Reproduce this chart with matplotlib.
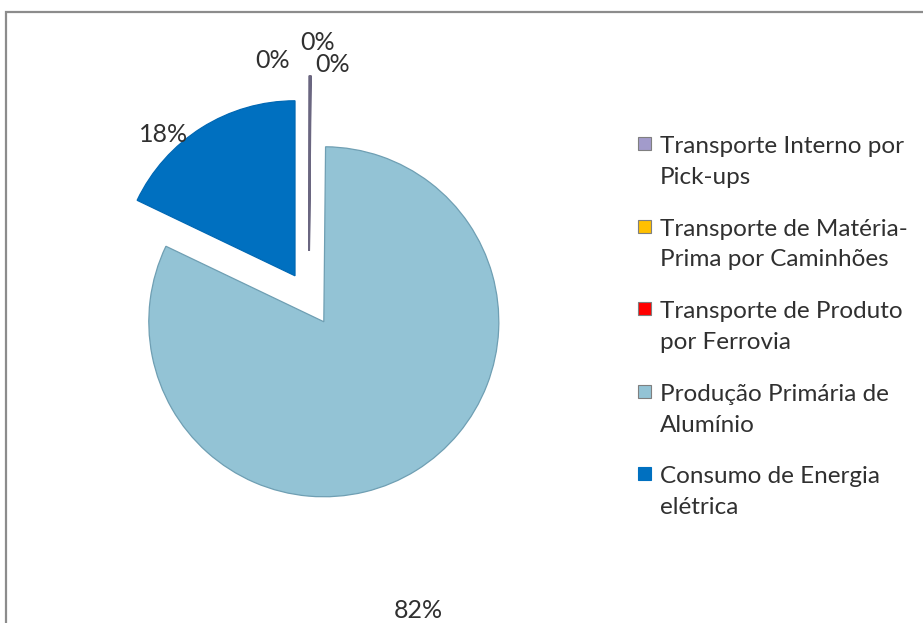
import matplotlib
matplotlib.use("Agg")
import matplotlib.pyplot as plt
from matplotlib.patches import Rectangle

plt.rcParams['font.family'] = ['Lato', 'DejaVu Sans']

# dados do gráfico (%)
categorias = [
    "Transporte Interno por\nPick-ups",
    "Transporte de Matéria-\nPrima por Caminhões",
    "Transporte de Produto\npor Ferrovia",
    "Produção Primária de\nAlumínio",
    "Consumo de Energia\nelétrica",
]
valores = [0.04, 0.08, 0.04, 81.94, 17.9]
cores = ["#A29BCB", "#FFC000", "#FF0000", "#93C3D5", "#0070C0"]
bordas = ["#6A6680", "#6A6680", "#6A6680", "#6F9FB3", "#0068B4"]
destaque = [0.27, 0.27, 0.27, 0.16, 0.15]

# posição dos rótulos em pixels (x, y a partir do topo)
pos_rotulos = [(273, 60), (318, 43), (333, 65), (418, 610), (164, 134)]

W, H = 923, 623
cx, cy, raio = 309, 298, 175
cor_texto = "#303030"

fig = plt.figure(figsize=(W / 100, H / 100), dpi=100)
fig.patches.append(Rectangle((6 / W, -0.05), 1.1, 1 - 12 / H + 0.05,
                             transform=fig.transFigure, fill=False,
                             edgecolor="#8C8C8C", linewidth=1.6))

ax = fig.add_axes([0, 0, 1, 1])
wedges, _, autotexts = ax.pie(
    valores, colors=cores, explode=destaque, startangle=90, counterclock=False,
    autopct='%.0f%%', radius=1,
    wedgeprops=dict(linewidth=0.9),
    textprops=dict(fontsize=18, color=cor_texto),
)
for w, b in zip(wedges, bordas):
    w.set_edgecolor(b)
for t, (px, py) in zip(autotexts, pos_rotulos):
    t.set_position(((px - cx) / raio, (cy - py) / raio))
    t.set_ha("center")
    t.set_va("center")

ax.set_xlim(-cx / raio, (W - cx) / raio)
ax.set_ylim(-(H - cy) / raio, cy / raio)
ax.set_aspect("equal")
ax.axis("off")

# legenda desenhada à mão (quadrado alinhado com a primeira linha)
leg = fig.add_axes([0, 0, 1, 1])
leg.set_xlim(0, W)
leg.set_ylim(H, 0)
leg.axis("off")
y0, passo, entre_linhas = 152, 82.5, 32
for i, (rotulo, cor, borda) in enumerate(zip(categorias, cores, bordas)):
    yb = y0 + i * passo
    leg.add_patch(Rectangle((638, yb - 15), 13, 13, facecolor=cor,
                            edgecolor="#7F7F7F" if i < 4 else cor, linewidth=0.8))
    # va="baseline" prende a última linha, por isso desce uma linha
    n_linhas = rotulo.count("\n") + 1
    leg.text(660, yb + (n_linhas - 1) * entre_linhas, rotulo, fontsize=17.5,
             color=cor_texto, ha="left", va="baseline", linespacing=1.57)

fig.savefig("out.png", dpi=100, facecolor="white")
